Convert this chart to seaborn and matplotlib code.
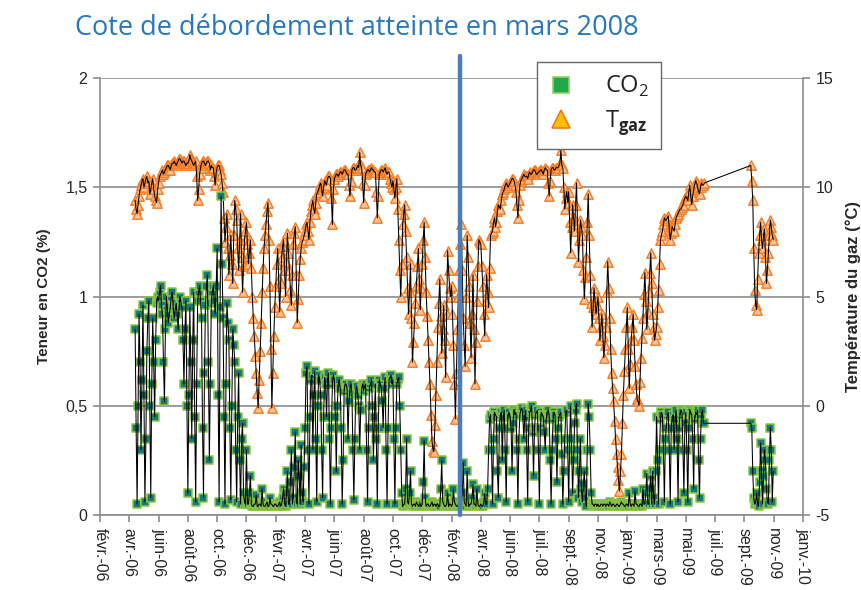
import pandas as pd
import matplotlib
matplotlib.use("Agg")
import matplotlib.pyplot as plt
from matplotlib.lines import Line2D
import seaborn as sns

# ---- data: samples every 4 days, plus the in-between readings ----
start_a = "2006-04-25"
start_b = "2009-10-07"
flood_date = "2008-02-20"

# gas temperature (degC), segment A: april 2006 -> july 2009
temp_a = [
    9.4, 8.8, 9.6, 10.1, 10.4, 10.2, 10.5, 10.3, 9.9, 10.4, 9.6, 9.3,
    10.2, 10.6, 10.8, 10.7, 10.9, 11.0, 10.8, 11.1, 11.2, 11.0, 11.2, 11.3, 11.1, 11.2, 11.0,
    11.1, 11.5, 11.2, 11.0, 11.2, 9.4, 10.6, 11.1, 11.2, 11.0, 11.2, 11.1, 11.0, 10.9, 10.1,
    10.9, 11.0, 10.6, 9.8, 7.5, 8.8, 6.0, 7.8, 5.6, 9.4, 8.5, 6.2, 8.8, 5.2, 7.6,
    8.4, 6.5, 7.6, 5.0, 3.2, 1.5, -0.1, 2.5, 5.2, 7.2, 8.3, 9.3, 5.5, -0.1, 3.2,
    5.5, 7.2, 4.3, 6.8, 7.6, 5.0, 7.9, 6.2, 4.6, 7.4, 8.2, 3.8, 6.0, 7.2, 7.6,
    8.0, 8.4, 7.6, 8.9, 9.4, 8.8, 9.7, 9.9, 10.2, 9.6, 10.3, 10.1, 10.5, 10.4, 8.3,
    10.4, 10.6, 10.5, 10.7, 10.6, 10.8, 10.7, 10.6, 9.6, 10.8, 10.9, 10.8, 11.0, 11.6, 10.9,
    9.3, 10.6, 10.8, 10.7, 10.9, 10.8, 10.7, 8.6, 10.6, 10.8, 10.7, 10.9, 10.6, 10.7, 10.2,
    10.3, 9.5, 10.4, 7.6, 5.0, 8.3, 9.2, 6.8, 4.2, 6.5, 2.0, 3.8, 5.5, 7.2, 4.4,
    6.5, 8.4, 5.2, 3.0, 1.0, -1.6, -2.1, 0.5, 3.6, 5.8, 2.4, 4.6, 1.3, 7.1, 5.4,
    5.5, 2.8, -0.6, 3.5, 6.2, 8.3, 4.0, 1.8, 7.8, 5.5, 2.2, 6.0, 1.0, 4.8, 7.6,
    7.4, 5.5, 3.2, 6.0, 4.5, 7.8, 8.0, 8.6, 8.4, 9.2, 9.0, 9.7, 9.9, 10.2, 10.0,
    10.2, 10.4, 10.3, 9.8, 8.6, 10.1, 10.4, 10.6, 10.5, 10.4, 10.7, 10.6, 10.8, 10.7, 10.6,
    10.7, 10.8, 10.6, 10.9, 10.8, 9.6, 10.8, 10.9, 10.8, 10.9, 11.0, 11.7, 10.9, 9.0, 9.8,
    9.8, 7.0, 9.2, 8.0, 10.2, 6.6, 8.5, 7.8, 4.9, 6.8, 9.7, 6.0, 3.6, 5.4, 4.2,
    5.0, 3.0, 4.2, 2.2, 3.6, 6.6, 4.0, 1.5, 0.2, -1.5, -2.8, -3.9, -2.2, 0.5, 2.6,
    4.5, 0.8, 3.0, 4.2, 1.8, 0.3, 0.0, 2.2, 4.0, 6.1, 3.5, 5.2, 7.0, 4.2, 3.0,
    3.6, 5.3, 7.6, 8.0, 8.6, 8.5, 8.7, 7.6, 8.2, 8.0, 8.6, 8.8, 9.0, 9.1, 9.4,
    9.6, 9.4, 10.1, 9.2, 9.9, 10.3, 10.0, 9.7, 10.2, 10.1,
]
# readings 2 days after each of the above
temp_a_mid = [
    9.0, 9.2, 9.9, 10.3, 10.0, 10.4, 10.2, 9.7, 10.2, 9.9, 9.4, 9.9,
    10.5, 10.7, 10.6, 10.8, 11.0, 10.9, 11.0, 11.1, 11.1, 11.1, 11.3, 11.2, 11.2, 11.1, 11.1,
    11.2, 11.3, 11.1, 11.1, 10.5, 9.9, 10.9, 11.2, 11.1, 11.1, 11.2, 10.8, 10.9, 10.5, 10.7,
    11.0, 10.8, 10.2, 8.6, 8.2, 7.2, 6.9, 6.5, 7.8, 9.0, 7.2, 7.6, 6.8, 6.4, 8.0,
    7.4, 7.0, 6.3, 4.0, 2.3, 0.6, 1.2, 3.8, 6.3, 7.8, 8.9, 7.6, 2.6, 1.5, 4.5,
    6.5, 5.8, 5.6, 7.3, 6.2, 6.6, 7.0, 5.3, 6.0, 7.9, 6.0, 4.9, 6.7, 7.5, 7.8,
    8.3, 8.0, 8.4, 9.2, 9.0, 9.3, 9.8, 10.1, 9.9, 10.0, 10.2, 10.4, 10.5, 9.5, 9.9,
    10.5, 10.6, 10.6, 10.7, 10.7, 10.8, 10.6, 10.1, 10.3, 10.9, 10.8, 10.9, 10.9, 11.0, 10.2,
    10.1, 10.7, 10.8, 10.8, 10.8, 10.7, 9.8, 9.6, 10.7, 10.8, 10.8, 10.7, 10.7, 10.4, 10.0,
    9.9, 10.0, 9.0, 6.2, 6.5, 8.8, 8.0, 5.4, 5.2, 4.0, 2.9, 4.7, 6.4, 5.8, 5.4,
    7.6, 6.8, 4.1, 2.0, -0.4, -2.0, -0.9, 2.0, 4.7, 4.1, 3.5, 3.0, 4.2, 6.2, 5.0,
    4.2, 1.0, 1.5, 5.0, 7.4, 6.2, 2.8, 5.0, 6.8, 3.8, 4.2, 3.5, 2.9, 6.4, 7.5,
    6.4, 4.2, 4.8, 5.2, 6.3, 7.9, 8.4, 8.2, 8.9, 9.1, 9.4, 9.8, 10.1, 10.1, 10.1,
    10.3, 10.4, 10.1, 9.2, 9.4, 10.3, 10.5, 10.5, 10.5, 10.6, 10.6, 10.7, 10.8, 10.6, 10.7,
    10.8, 10.7, 10.8, 10.8, 10.2, 10.3, 10.9, 10.8, 10.9, 10.9, 11.1, 11.0, 10.0, 9.5, 9.3,
    8.4, 8.2, 8.6, 9.2, 8.3, 7.6, 8.2, 6.2, 5.9, 8.4, 7.8, 4.7, 4.5, 4.8, 4.6,
    4.0, 3.6, 3.2, 2.8, 5.2, 5.4, 2.6, 0.8, -0.7, -2.2, -3.4, -3.0, -0.8, 1.6, 3.6,
    2.6, 1.9, 3.6, 3.0, 1.0, 0.2, 1.1, 3.1, 5.1, 4.8, 4.3, 6.1, 5.6, 3.6, 3.3,
    4.5, 6.5, 7.8, 8.3, 8.5, 8.6, 8.1, 7.9, 8.1, 8.3, 8.7, 8.9, 9.0, 9.2, 9.5,
    9.5, 9.8, 9.6, 9.6, 10.1, 10.2, 9.8, 10.0, 10.1, 10.2,
]
# CO2 content (%), segment A
co2_a = [
    0.85, 0.05, 0.92, 0.30, 0.96, 0.06, 0.75, 0.98, 0.08, 0.90, 0.45, 0.97,
    0.98, 1.05, 0.92, 0.52, 1.00, 0.88, 0.95, 1.02, 0.90, 0.97, 0.85, 1.00, 0.95, 0.60, 0.98,
    0.10, 0.95, 0.35, 1.02, 0.06, 0.98, 1.05, 0.90, 0.08, 0.96, 1.10, 0.25, 0.97, 1.05, 0.92,
    1.22, 0.06, 1.46, 0.90, 0.05, 0.97, 0.80, 0.07, 0.85, 0.70, 0.06, 0.65, 0.05, 0.42, 0.06,
    0.30, 0.05, 0.18, 0.04, 0.05, 0.09, 0.04, 0.05, 0.12, 0.04, 0.05, 0.04, 0.08, 0.05, 0.04,
    0.05, 0.04, 0.06, 0.05, 0.12, 0.04, 0.20, 0.05, 0.30, 0.08, 0.38, 0.05, 0.18, 0.32, 0.06,
    0.40, 0.68, 0.05, 0.62, 0.30, 0.66, 0.06, 0.64, 0.55, 0.08, 0.63, 0.45, 0.65, 0.05, 0.60,
    0.62, 0.20, 0.60, 0.58, 0.05, 0.57, 0.60, 0.35, 0.58, 0.56, 0.07, 0.57, 0.55, 0.30, 0.58,
    0.57, 0.60, 0.06, 0.58, 0.62, 0.25, 0.60, 0.05, 0.62, 0.58, 0.40, 0.63, 0.05, 0.62, 0.64,
    0.62, 0.05, 0.60, 0.63, 0.30, 0.04, 0.05, 0.35, 0.05, 0.20, 0.04, 0.05, 0.06, 0.04, 0.05,
    0.05, 0.34, 0.04, 0.05, 0.04, 0.06, 0.05, 0.04, 0.05, 0.04, 0.25, 0.05, 0.04, 0.10, 0.05,
    0.04, 0.12, 0.05, 0.04, 0.06, 0.05, 0.24, 0.05, 0.20, 0.04, 0.05, 0.14, 0.05, 0.12, 0.04,
    0.05, 0.04, 0.10, 0.05, 0.30, 0.46, 0.05, 0.47, 0.45, 0.08, 0.46, 0.25, 0.48, 0.06, 0.46,
    0.45, 0.20, 0.48, 0.47, 0.05, 0.46, 0.49, 0.35, 0.48, 0.06, 0.47, 0.50, 0.18, 0.46, 0.48,
    0.05, 0.47, 0.45, 0.30, 0.47, 0.46, 0.05, 0.44, 0.46, 0.15, 0.45, 0.47, 0.05, 0.35, 0.48,
    0.06, 0.50, 0.10, 0.42, 0.51, 0.08, 0.35, 0.06, 0.20, 0.04, 0.51, 0.30, 0.05, 0.04, 0.05,
    0.05, 0.04, 0.05, 0.05, 0.04, 0.05, 0.06, 0.04, 0.05, 0.04, 0.05, 0.04, 0.06, 0.05, 0.04,
    0.05, 0.10, 0.04, 0.05, 0.11, 0.05, 0.04, 0.05, 0.12, 0.05, 0.19, 0.05, 0.18, 0.20, 0.05,
    0.45, 0.05, 0.44, 0.46, 0.06, 0.40, 0.47, 0.05, 0.45, 0.30, 0.48, 0.06, 0.46, 0.47, 0.10,
    0.47, 0.06, 0.48, 0.46, 0.12, 0.47, 0.48, 0.08, 0.46, 0.42,
]
co2_a_mid = [
    0.40, 0.50, 0.70, 0.62, 0.55, 0.35, 0.90, 0.50, 0.60, 0.70, 0.80, 1.00,
    1.02, 0.96, 0.70, 0.85, 0.94, 0.92, 1.00, 0.95, 0.94, 0.92, 0.95, 0.97, 0.80, 0.85, 0.50,
    0.55, 0.70, 0.80, 0.45, 0.60, 1.02, 0.98, 0.40, 0.65, 1.05, 0.70, 0.60, 1.02, 0.98, 1.05,
    0.55, 0.95, 1.15, 0.45, 0.60, 0.88, 0.40, 0.50, 0.78, 0.30, 0.45, 0.25, 0.35, 0.10, 0.05,
    0.05, 0.10, 0.05, 0.04, 0.05, 0.04, 0.05, 0.04, 0.05, 0.04, 0.06, 0.04, 0.05, 0.04, 0.05,
    0.04, 0.05, 0.04, 0.08, 0.05, 0.10, 0.05, 0.15, 0.05, 0.22, 0.06, 0.25, 0.05, 0.10, 0.22,
    0.65, 0.30, 0.45, 0.64, 0.55, 0.35, 0.50, 0.62, 0.30, 0.45, 0.60, 0.62, 0.35, 0.40, 0.64,
    0.45, 0.50, 0.62, 0.40, 0.25, 0.60, 0.58, 0.52, 0.60, 0.30, 0.35, 0.59, 0.50, 0.48, 0.60,
    0.59, 0.30, 0.40, 0.60, 0.50, 0.45, 0.35, 0.40, 0.60, 0.52, 0.58, 0.30, 0.40, 0.63, 0.60,
    0.35, 0.40, 0.62, 0.50, 0.10, 0.05, 0.12, 0.06, 0.10, 0.05, 0.05, 0.04, 0.05, 0.05, 0.04,
    0.15, 0.08, 0.05, 0.04, 0.05, 0.04, 0.05, 0.05, 0.04, 0.12, 0.06, 0.04, 0.05, 0.04, 0.05,
    0.05, 0.06, 0.04, 0.05, 0.04, 0.10, 0.06, 0.04, 0.06, 0.05, 0.08, 0.05, 0.04, 0.05, 0.04,
    0.04, 0.06, 0.05, 0.12, 0.44, 0.30, 0.35, 0.46, 0.20, 0.40, 0.47, 0.45, 0.30, 0.40, 0.47,
    0.40, 0.42, 0.46, 0.30, 0.35, 0.48, 0.46, 0.45, 0.30, 0.40, 0.48, 0.38, 0.40, 0.47, 0.30,
    0.40, 0.46, 0.38, 0.44, 0.48, 0.25, 0.30, 0.47, 0.35, 0.40, 0.46, 0.28, 0.20, 0.47, 0.30,
    0.35, 0.30, 0.25, 0.48, 0.30, 0.20, 0.12, 0.14, 0.08, 0.30, 0.45, 0.10, 0.05, 0.05, 0.04,
    0.04, 0.05, 0.04, 0.05, 0.05, 0.04, 0.05, 0.05, 0.04, 0.05, 0.04, 0.05, 0.05, 0.04, 0.05,
    0.04, 0.05, 0.05, 0.04, 0.05, 0.04, 0.05, 0.04, 0.05, 0.10, 0.05, 0.12, 0.05, 0.08, 0.20,
    0.25, 0.30, 0.47, 0.30, 0.35, 0.46, 0.30, 0.40, 0.46, 0.44, 0.35, 0.40, 0.48, 0.30, 0.42,
    0.30, 0.40, 0.47, 0.35, 0.44, 0.46, 0.25, 0.35, 0.48, 0.42,
]
# segment B: october -> november 2009
temp_b = [11.0, 9.4, 5.3, 4.4, 7.0, 8.4, 7.2, 8.1, 5.6, 7.0, 8.5, 7.8]
temp_b_mid = [10.3, 7.2, 4.6, 5.8, 7.8, 7.6, 7.8, 6.8, 6.2, 7.8, 8.2, 7.6]
co2_b = [0.42, 0.20, 0.05, 0.10, 0.04, 0.33, 0.05, 0.30, 0.12, 0.05, 0.40, 0.06]
co2_b_mid = [0.40, 0.08, 0.06, 0.05, 0.15, 0.20, 0.18, 0.25, 0.06, 0.25, 0.30, 0.20]

tick_start = "2006-02-12"
tick_labels = ["févr.-06", "avr.-06", "juin-06", "août-06", "oct.-06", "déc.-06",
               "févr.-07", "avr.-07", "juin-07", "août-07", "oct.-07", "déc.-07",
               "févr.-08", "avr.-08", "juin-08", "juil.-08", "sept.-08", "nov.-08",
               "janv.-09", "mars-09", "mai-09", "juil.-09", "sept.-09", "nov.-09",
               "janv.-10"]
co2_ticks = [0, 0.5, 1, 1.5, 2]
co2_tick_labels = ["0", "0,5", "1", "1,5", "2"]
temp_ticks = [-5, 0, 5, 10, 15]

dates_a = pd.date_range(start_a, periods=len(temp_a), freq="4D")
dates_b = pd.date_range(start_b, periods=len(temp_b), freq="4D")
dates = dates_a.append(dates_b)
main = pd.DataFrame({"date": dates, "co2": co2_a + co2_b, "temp": temp_a + temp_b})
mid = pd.DataFrame({"date": dates + pd.Timedelta(days=2),
                    "co2": co2_a_mid + co2_b_mid, "temp": temp_a_mid + temp_b_mid})
df = pd.concat([main, mid]).sort_values("date").reset_index(drop=True)
tick_dates = pd.date_range(tick_start, periods=len(tick_labels), freq="60D")

sns.set_style("white")
plt.rcParams["font.family"] = ["Liberation Sans", "DejaVu Sans"]
plt.rcParams["mathtext.fontset"] = "custom"
plt.rcParams["mathtext.rm"] = "Open Sans"
plt.rcParams["mathtext.bf"] = "Open Sans:bold"

grey = "#8c8c8c"
fig = plt.figure(figsize=(8.62, 5.9), dpi=100)
ax = fig.add_axes([0.116, 0.127, 0.8156, 0.7407])
ax2 = ax.twinx()
ax.set_zorder(ax2.get_zorder() + 1)
ax.patch.set_visible(False)

# temperature (right axis)
sns.scatterplot(data=df, x="date", y="temp", ax=ax2, marker="^", s=46,
                color="#f9c29a", edgecolor="#f47b20", linewidth=1.0, zorder=3)
sns.lineplot(data=df, x="date", y="temp", ax=ax2, color="black", lw=0.75,
             errorbar=None, zorder=4)

# CO2 (left axis)
sns.scatterplot(data=df, x="date", y="co2", ax=ax, marker="s", s=30,
                color="#157a78", edgecolor="#8cc63f", linewidth=1.1, zorder=3)
sns.lineplot(data=df, x="date", y="co2", ax=ax, color="black", lw=0.75,
             errorbar=None, zorder=4)

ax.axvline(pd.Timestamp(flood_date), ymin=0, ymax=1.05, color="#4a7ebb", lw=3.2,
           clip_on=False, zorder=10)

ax.set_xlim(tick_dates[0], tick_dates[-1])
ax.set_ylim(0, 2)
ax2.set_ylim(-5, 15)
ax.set_xticks(tick_dates)
ax.set_xticklabels(tick_labels, rotation=-90, fontsize=11.5)
ax.set_yticks(co2_ticks)
ax.set_yticklabels(co2_tick_labels, fontsize=11.5)
ax2.set_yticks(temp_ticks)
ax2.set_yticklabels([str(t) for t in temp_ticks], fontsize=11.5)

ax2.yaxis.grid(True, color=grey, lw=1.2)
ax2.set_axisbelow(True)
ax.xaxis.grid(False)

for a in (ax, ax2):
    for s in a.spines.values():
        s.set_visible(False)
ax.spines["left"].set_visible(True)
ax.spines["bottom"].set_visible(True)
ax2.spines["right"].set_visible(True)
for s in (ax.spines["left"], ax.spines["bottom"], ax2.spines["right"]):
    s.set_color(grey)
    s.set_linewidth(1.2)

ax.tick_params(axis="both", direction="out", length=5, color=grey, width=1.2, pad=4)
ax.tick_params(axis="x", bottom=True)
ax.tick_params(axis="y", left=True)
ax2.tick_params(axis="y", direction="out", length=5, color=grey, width=1.2, right=True, pad=4)

ax.set_xlabel("")
ax.set_ylabel("Teneur en CO2 (%)", fontsize=11, fontweight="bold")
ax.yaxis.set_label_coords(-0.07, 0.5)
ax2.set_ylabel("Température du gaz (°C)", fontsize=12, fontweight="bold",
               rotation=90)
ax2.yaxis.set_label_coords(1.061, 0.5)

fig.text(75 / 862, 1 - 28 / 590, "Cote de débordement atteinte en mars 2008",
         fontsize=19.5, color="#2777be", va="center", ha="left", family="Open Sans")

handles = [
    Line2D([], [], marker="s", ls="", markersize=12, markerfacecolor="#21a84a",
           markeredgecolor="#8dd35f", markeredgewidth=1.2),
    Line2D([], [], marker="^", ls="", markersize=13, markerfacecolor="#ffc000",
           markeredgecolor="#f07b16", markeredgewidth=1.2),
]
leg = fig.legend(handles, ["CO$_\\mathrm{2}$", "T$_{\\mathbf{gaz}}$"],
                 loc="upper left", bbox_to_anchor=(537 / 862, 1 - 62 / 590),
                 frameon=True, fancybox=False, framealpha=1, edgecolor="#666666",
                 prop={"family": "Open Sans", "size": 17},
                 handlelength=1.0, handletextpad=1.4, borderpad=0.5,
                 labelspacing=0.4, borderaxespad=0)
leg.get_frame().set_linewidth(1.0)

fig.savefig("out.png", dpi=100)
